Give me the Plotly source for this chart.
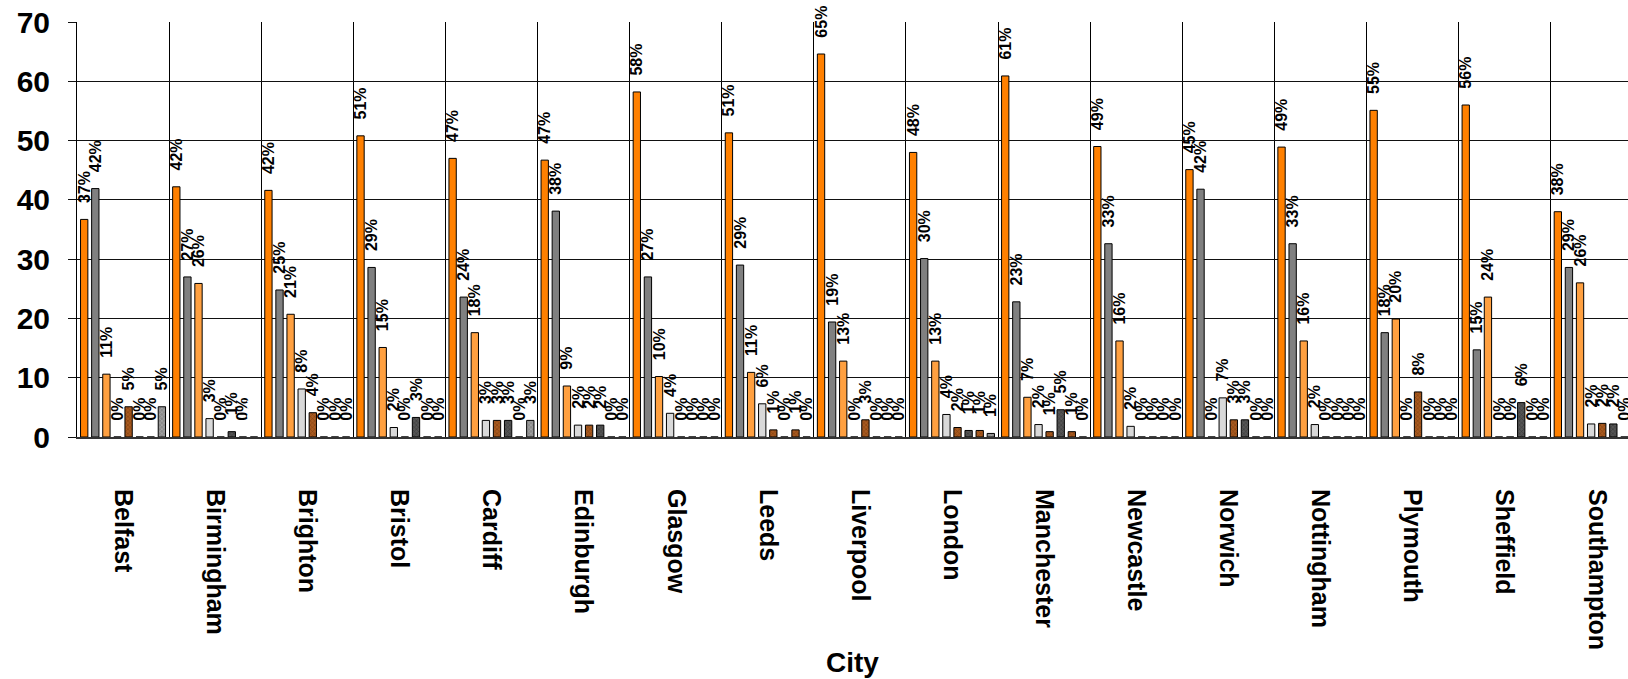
import plotly.graph_objects as go

cities = ["Belfast", "Birmingham", "Brighton", "Bristol", "Cardiff", "Edinburgh",
          "Glasgow", "Leeds", "Liverpool", "London", "Manchester", "Newcastle",
          "Norwich", "Nottingham", "Plymouth", "Sheffield", "Southampton"]

s1 = [36.7, 42.2, 41.6, 50.8, 47.0, 46.7, 58.2, 51.3, 64.6, 48.0, 60.9, 49.0, 45.1, 48.9, 55.1, 56.0, 38.0]
s2 = [41.9, 27.0, 24.8, 28.6, 23.6, 38.1, 27.0, 29.0, 19.4, 30.1, 22.8, 32.6, 41.8, 32.6, 17.6, 14.7, 28.6]
s3 = [10.6, 25.9, 20.7, 15.1, 17.6, 8.6, 10.2, 10.9, 12.8, 12.8, 6.7, 16.2, 0.0, 16.2, 19.9, 23.6, 26.0]
s4 = [0.0, 3.1, 8.1, 1.6, 2.8, 2.0, 4.0, 5.6, 0.0, 3.8, 2.1, 1.8, 6.6, 2.1, 0.0, 0.0, 2.2]
s5 = [5.1, 0.0, 4.1, 0.0, 2.8, 2.0, 0.0, 1.2, 2.9, 1.6, 0.9, 0.0, 2.9, 0.0, 7.6, 0.0, 2.3]
s6 = [0.0, 0.9, 0.0, 3.3, 2.8, 2.0, 0.0, 0.0, 0.0, 1.1, 4.6, 0.0, 2.9, 0.0, 0.0, 5.8, 2.2]
s7 = [0.0, 0.0, 0.0, 0.0, 0.0, 0.0, 0.0, 1.2, 0.0, 1.1, 0.9, 0.0, 0.0, 0.0, 0.0, 0.0, 0.0]
s8 = [5.1, 0.0, 0.0, 0.0, 2.8, 0.0, 0.0, 0.0, 0.0, 0.6, 0.0, 0.0, 0.0, 0.0, 0.0, 0.0, 0.0]

y_ticks = [0, 10, 20, 30, 40, 50, 60, 70]
x_title = "City"

series = [s1, s2, s3, s4, s5, s6, s7, s8]
styles = [
    dict(color="#FF8000"),
    dict(color="#808080"),
    dict(color="#FFA040"),
    dict(color="#D9D9D9"),
    dict(color="#9A4A14", pattern=dict(shape="x", size=3, solidity=0.35, fgcolor="#5A2800", bgcolor="#A85A20")),
    dict(color="#404040", pattern=dict(shape="x", size=3, solidity=0.35, fgcolor="#1E1E1E", bgcolor="#555555")),
    dict(color="#9A4A14", pattern=dict(shape="x", size=3, solidity=0.35, fgcolor="#5A2800", bgcolor="#A85A20")),
    dict(color="#9A9A9A", pattern=dict(shape="x", size=3, solidity=0.35, fgcolor="#D0D0D0", bgcolor="#8A8A8A")),
]

FONT = "Liberation Sans, Arial, sans-serif"
PAD = "\u00a0\u00a0\u00a0"  # gap between bar top and its label

fig = go.Figure()
for i, (vals, st) in enumerate(zip(series, styles)):
    txt = [f"{PAD}{v:.0f}%" for v in vals]
    tcol = ["black"] * len(vals)
    if i == 7:
        tcol[cities.index("Birmingham")] = "white"
    marker = dict(st)
    marker["line"] = dict(color="black", width=1)
    fig.add_trace(go.Bar(
        x=cities, y=vals, name=f"S{i+1}",
        marker=marker,
        text=txt, textposition="outside", textangle=-90,
        constraintext="none", cliponaxis=False,
        textfont=dict(family=FONT, size=16, color=tcol, weight="bold"),
    ))

fig.update_layout(
    width=1628, height=679,
    margin=dict(l=77, r=0, t=22, b=242),
    barmode="group", bargap=0.036, bargroupgap=0.34,
    showlegend=False,
    plot_bgcolor="white", paper_bgcolor="white",
    font=dict(family=FONT, color="black"),
)

fig.update_yaxes(
    range=[0, 70], tickvals=y_ticks,
    showgrid=True, gridcolor="#111", gridwidth=1,
    ticks="outside", ticklen=8, tickcolor="#111",
    showline=True, linecolor="black", linewidth=1,
    zeroline=False,
    tickfont=dict(family=FONT, size=30, weight="bold"),
    ticklabelstandoff=12,
)

fig.update_xaxes(
    type="category", range=[-0.5, 16.34],
    tickson="boundaries", showgrid=True, gridcolor="black", gridwidth=1,
    ticks="", tickangle=90,
    tickfont=dict(family=FONT, size=25, weight="bold"),
    ticklabelstandoff=45,
    showline=True, linecolor="#333", linewidth=2,
)

fig.add_annotation(
    text=x_title, x=0.5, xref="paper", y=0, yref="paper",
    yshift=-225, showarrow=False, yanchor="middle",
    font=dict(family=FONT, size=28, weight="bold"),
)

fig.write_html("out.html", config={"displayModeBar": False},
               post_script="document.body.style.margin='0';document.body.style.overflow='hidden';")
